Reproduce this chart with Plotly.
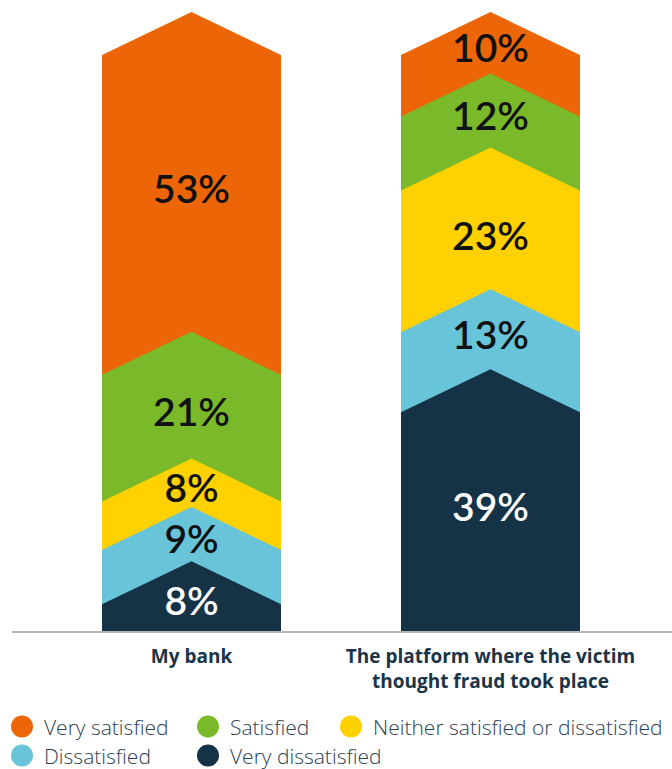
import plotly.graph_objects as go

# ---------------- data ----------------
categories = ["My bank", "The platform where the victim<br>thought fraud took place"]
levels = ["Very dissatisfied", "Dissatisfied", "Neither satisfied or dissatisfied",
          "Satisfied", "Very satisfied"]  # bottom -> top
my_bank = [8, 9, 8, 21, 53]
platform = [39, 13, 23, 12, 10]
series = [my_bank, platform]

legend_order = ["Very satisfied", "Satisfied", "Neither satisfied or dissatisfied",
                "Dissatisfied", "Very dissatisfied"]

# ---------------- style ----------------
colors = {
    "Very satisfied": "#EC6608",
    "Satisfied": "#7AB92A",
    "Neither satisfied or dissatisfied": "#FFD100",
    "Dissatisfied": "#68C4D8",
    "Very dissatisfied": "#163246",
}
text_colors = {
    "Very satisfied": "#111111",
    "Satisfied": "#111111",
    "Neither satisfied or dissatisfied": "#111111",
    "Dissatisfied": "#111111",
    "Very dissatisfied": "#FFFFFF",
}
W, H = 672, 769
ML, MR, MT, MB = 12, 0, 0, 138
plot_w = W - ML - MR
plot_h = H - MT - MB
col_gap_px = 299.0
x_min = -179.5 / col_gap_px
x_max = x_min + plot_w / col_gap_px
half_w = 89.5 / col_gap_px
px_per_unit = 5.975
y_max = plot_h / px_per_unit
chev = 21.5 / px_per_unit   # chevron half-height in y units

fig = go.Figure()

label_x, label_y, label_t, label_c = [], [], [], []
for ci, vals in enumerate(series):
    total = sum(vals)
    xc = ci
    xl, xr = xc - half_w, xc + half_w
    bounds = [0.0]
    for v in vals:
        bounds.append(bounds[-1] + v / total * 100.0)
    # draw top-most first, lower ones overlap (no seams)
    for i in reversed(range(len(vals))):
        top = bounds[i + 1]
        xs = [xl, xr, xr, xc, xl, xl]
        ys = [0, 0, top - chev, top + chev, top - chev, 0]
        fig.add_trace(go.Scatter(
            x=xs, y=ys, mode="lines", fill="toself",
            fillcolor=colors[levels[i]], line=dict(width=0),
            hoverinfo="skip", showlegend=False))
    for i, v in enumerate(vals):
        b0, b1 = bounds[i], bounds[i + 1]
        if (b1 - b0) < 15:
            lower_peak = b0 + chev if b0 > 0 else 0.0
            y = (lower_peak + b1 + chev) / 2 - 1.6
        else:
            y = (b0 + b1) / 2
        label_x.append(xc)
        label_y.append(y)
        label_t.append(f"{v}%")
        label_c.append(text_colors[levels[i]])

fig.add_trace(go.Scatter(
    x=label_x, y=label_y, mode="text", text=label_t,
    textfont=dict(family="Lato", size=39, color=label_c, weight=600),
    textposition="middle center", hoverinfo="skip", showlegend=False))

# ---------------- manual legend ----------------
def px_to_paper_x(px):
    return (px - ML) / plot_w

def px_to_paper_y(py):
    return (H - MB - py) / plot_h

legend_pos = {
    "Very satisfied": (22, 726.5),
    "Satisfied": (208, 726.5),
    "Neither satisfied or dissatisfied": (351, 726.5),
    "Dissatisfied": (22, 755.5),
    "Very dissatisfied": (208, 755.5),
}
shapes, annotations = [], []
for name in legend_order:
    cx, cy = legend_pos[name]
    shapes.append(dict(
        type="circle", xref="paper", yref="paper",
        xsizemode="pixel", ysizemode="pixel",
        xanchor=px_to_paper_x(cx), yanchor=px_to_paper_y(cy),
        x0=-11, x1=11, y0=-11, y1=11,
        fillcolor=colors[name], line=dict(width=0)))
    annotations.append(dict(
        text=name, xref="paper", yref="paper",
        x=px_to_paper_x(cx + 20), y=px_to_paper_y(cy),
        xanchor="left", yanchor="middle", showarrow=False,
        font=dict(family="Open Sans", size=21, color="#2C4153", weight=300)))

fig.update_layout(
    width=W, height=H,
    margin=dict(l=ML, r=MR, t=MT, b=MB, pad=0),
    paper_bgcolor="white", plot_bgcolor="white",
    showlegend=False,
    shapes=shapes, annotations=annotations,
    xaxis=dict(range=[x_min, x_max], tickvals=[0, 1], ticktext=categories,
               showgrid=False, zeroline=False, showline=True,
               linecolor="#B5B5B5", linewidth=2, ticks="",
               ticklabelstandoff=7,
               tickfont=dict(family="Open Sans", size=19, color="#1B3447", weight=700),
               fixedrange=True),
    yaxis=dict(range=[0, y_max], visible=False, showgrid=False,
               zeroline=False, fixedrange=True),
)

fig.write_html("out.html", config={"displayModeBar": False})
